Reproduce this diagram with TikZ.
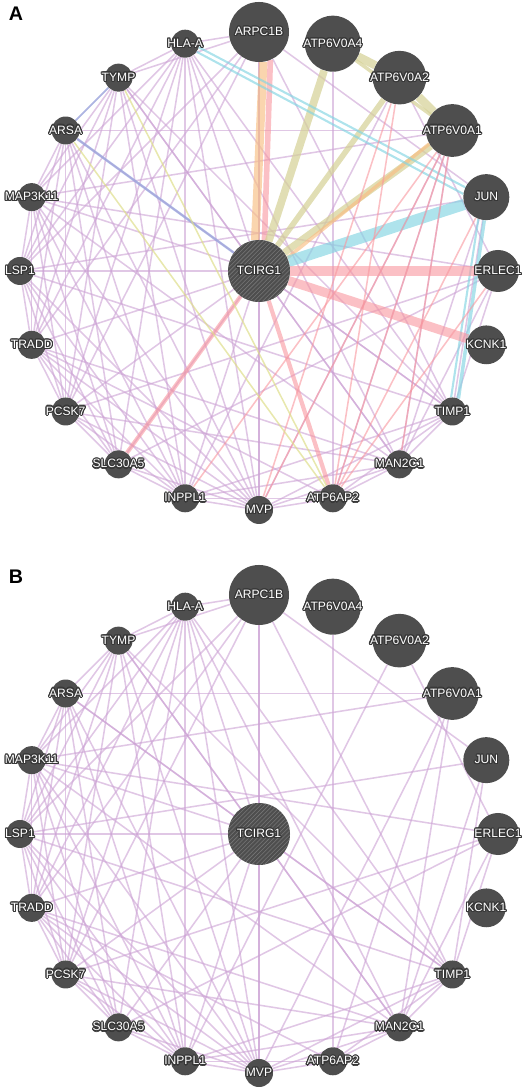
\documentclass[tikz,border=0pt]{standalone}
\usepackage{fontspec}
\setmainfont{Liberation Sans}
\usepackage{contour}
\contourlength{0.8pt}
\usetikzlibrary{patterns,backgrounds,calc}
\definecolor{nodegray}{RGB}{78,78,78}
\definecolor{halogray}{RGB}{55,55,55}
\definecolor{hatchgray}{RGB}{118,118,118}
\definecolor{coexpviolet}{RGB}{204,162,212}
\definecolor{physred}{RGB}{248,150,158}
\definecolor{predorange}{RGB}{248,190,130}
\definecolor{domainkhaki}{RGB}{212,208,148}
\definecolor{pathcyan}{RGB}{130,212,226}
\definecolor{colocblue}{RGB}{140,168,224}
\definecolor{genyellow}{RGB}{222,222,140}
\newcommand{\glab}[1]{\makebox[0pt]{\contour{halogray}{#1}}}
\tikzset{
  gene/.style={circle,fill=nodegray,inner sep=0pt,minimum size=0.7cm,
               font=\fontsize{8.6}{10}\selectfont,text=white},
  hub/.style={gene,minimum size=1.55cm,
              postaction={pattern=north east lines,pattern color=hatchgray}},
  panel/.style={font=\fontsize{14}{16}\selectfont\bfseries},
  coexp/.style={draw=coexpviolet,line width=1.1pt,opacity=0.6},
  physical/.style={draw=physred,opacity=0.6},
  predicted/.style={draw=predorange,opacity=0.65},
  sharedomain/.style={draw=domainkhaki,opacity=0.7},
  pathway/.style={draw=pathcyan,opacity=0.65},
  coloc/.style={draw=colocblue,opacity=0.6},
  genetic/.style={draw=genyellow,opacity=0.7},
}

\begin{document}
\begin{tikzpicture}[x=0.025cm,y=0.025cm]
  \path[use as bounding box] (0,0) rectangle (526,1091);
  \node[panel] (labA) at (16,1077) {A};
  \node[panel] (labB) at (16,514) {B};

  % both panels share the ring layout and the co-expression network
  \foreach \p/\cy in {A/820,B/257} {
    \node[hub] (\p tcirg) at (259,\cy) {\glab{TCIRG1}};
    \foreach \ang/\nm/\lab/\dia in {
        90/arpc/ARPC1B/1.5cm, 72/atpa4/ATP6V0A4/1.4cm, 54/atpa2/ATP6V0A2/1.34cm,
        36/atpa1/ATP6V0A1/1.32cm, 18/jun/JUN/1.15cm, 0/erlec/ERLEC1/1.05cm,
        -18/kcnk/KCNK1/0.97cm, -36/timp/TIMP1/0.7cm, -54/man/MAN2C1/0.7cm,
        -72/ap2/ATP6AP2/0.7cm, -90/mvp/MVP/0.7cm, -108/inppl/INPPL1/0.7cm,
        -126/slc/SLC30A5/0.7cm, -144/pcsk/PCSK7/0.7cm, -162/tradd/TRADD/0.7cm,
        180/lsp/LSP1/0.7cm, 162/map/MAP3K11/0.7cm, 144/arsa/ARSA/0.7cm,
        126/tymp/TYMP/0.7cm, 108/hla/HLA-A/0.7cm}
      \node[gene,minimum size=\dia] (\p\nm) at ($(259,\cy)+(\ang:239)$) {\glab{\lab}};

    \begin{scope}[on background layer]
      \foreach \u/\v in {
          hla/tymp, hla/arpc, hla/tcirg, hla/mvp, hla/inppl, hla/slc, hla/timp, hla/man,
          hla/tradd, hla/lsp, hla/map, hla/pcsk,
          tymp/arsa, tymp/map, tymp/tcirg, tymp/mvp, tymp/man, tymp/timp, tymp/inppl,
          tymp/tradd, tymp/lsp, tymp/pcsk, tymp/arpc,
          arsa/atpa1, arsa/map, arsa/lsp, arsa/tradd, arsa/pcsk, arsa/inppl, arsa/mvp,
          arsa/tcirg, arsa/slc, arsa/timp,
          map/atpa1, map/lsp, map/tradd, map/pcsk, map/tcirg, map/erlec, map/mvp,
          map/inppl, map/man, map/slc,
          lsp/tcirg, lsp/tradd, lsp/pcsk, lsp/jun, lsp/timp, lsp/mvp, lsp/inppl, lsp/arpc, lsp/slc,
          tradd/tcirg, tradd/pcsk, tradd/slc, tradd/inppl, tradd/mvp, tradd/man, tradd/arpc, tradd/ap2,
          pcsk/tcirg, pcsk/slc, pcsk/inppl, pcsk/mvp, pcsk/man, pcsk/arpc, pcsk/erlec,
          slc/inppl, slc/mvp, slc/erlec, slc/tcirg,
          inppl/mvp, inppl/tcirg, inppl/man, inppl/ap2, inppl/timp, inppl/atpa2,
          mvp/tcirg, mvp/arpc, mvp/ap2, mvp/man, mvp/timp, mvp/atpa1,
          ap2/atpa4, ap2/man, ap2/timp, ap2/atpa1,
          man/tcirg, man/timp, man/erlec, man/atpa1,
          timp/tcirg, timp/arpc, timp/jun, timp/erlec,
          arpc/tcirg, arpc/jun, atpa2/erlec, jun/man}
        \draw[coexp] (\p\u) -- (\p\v);
    \end{scope}
  }

  % extra networks shown only in panel A
  \begin{scope}[on background layer]
    \draw[predicted,line width=6pt] (Aarpc.-82) -- (Atcirg.97);
    \draw[physical,line width=4pt] (Aarpc.-68) -- (Atcirg.80);
    \draw[sharedomain,line width=5.5pt] (Aatpa4) -- (Atcirg);
    \draw[sharedomain,line width=4pt] (Aatpa2) -- (Atcirg);
    \draw[sharedomain,line width=5pt] (Aatpa1) -- (Atcirg);
    \draw[predicted,line width=2.5pt] (Aatpa1.-150) -- (Atcirg.25);
    \draw[sharedomain,line width=6pt] (Aatpa4) -- (Aatpa2);
    \draw[sharedomain,line width=6pt] (Aatpa2) -- (Aatpa1);
    \draw[sharedomain,line width=2.5pt] (Aatpa4) -- (Aatpa1);
    \draw[pathway,line width=8pt] (Ajun) -- (Atcirg);
    \draw[pathway,line width=1.5pt] (Ahla.-15) -- (Ajun.155);
    \draw[pathway,line width=1.5pt] (Ahla.-35) -- (Ajun.172);
    \draw[pathway,line width=2.5pt] (Ajun.-95) -- (Atimp.65);
    \draw[pathway,line width=1.5pt] (Ajun.-110) -- (Atimp.95);
    \draw[physical,line width=6.5pt] (Aerlec) -- (Atcirg);
    \draw[physical,line width=6.5pt] (Akcnk) -- (Atcirg);
    \draw[physical,line width=3pt] (Aslc) -- (Atcirg);
    \draw[physical,line width=3pt] (Aap2) -- (Atcirg);
    \foreach \u/\v in {atpa2/ap2, atpa1/ap2, atpa1/man, atpa1/mvp, atpa1/inppl,
                       atpa2/mvp, jun/ap2, erlec/ap2}
      \draw[physical,line width=1.1pt] (A\u) -- (A\v);
    \draw[coloc,line width=1.8pt] (Aarsa) -- (Atcirg);
    \draw[coloc,line width=1.2pt] (Atymp) -- (Aarsa);
    \draw[genetic,line width=1.1pt] (Aarsa) -- (Aap2);
    \draw[genetic,line width=1.1pt] (Atymp) -- (Aap2);
  \end{scope}
\end{tikzpicture}
\end{document}
